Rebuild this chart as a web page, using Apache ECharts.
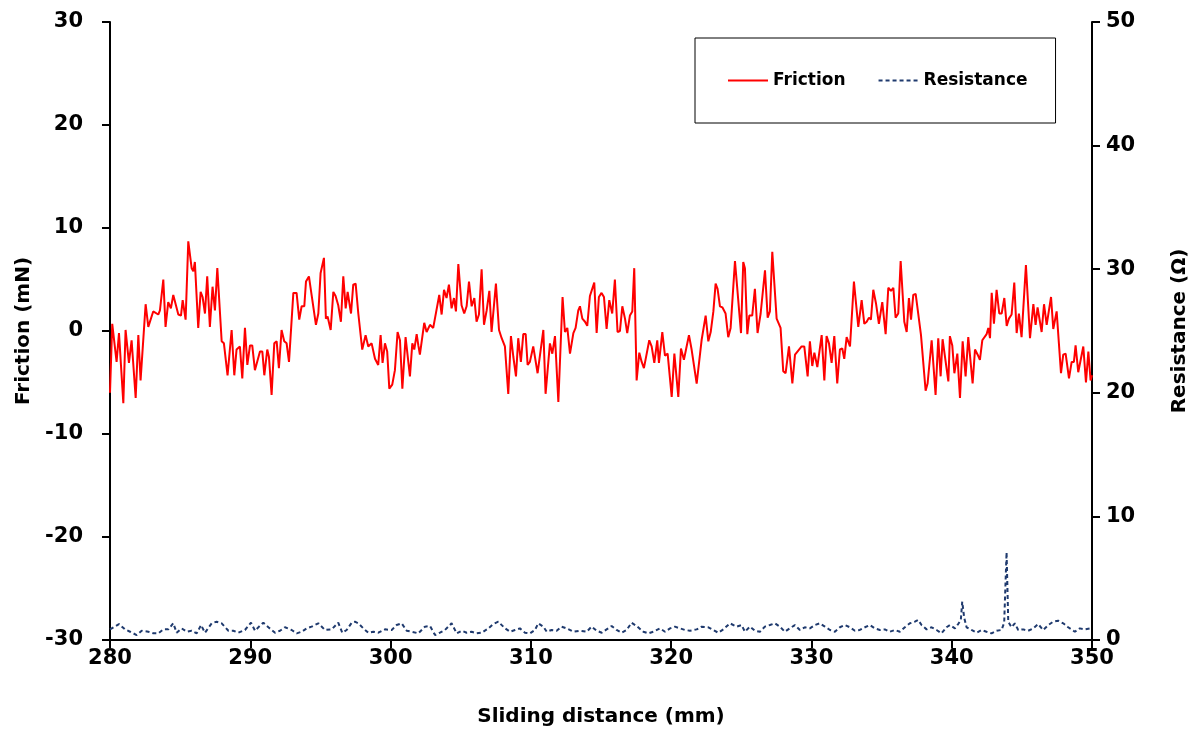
<!DOCTYPE html>
<html>
<head>
<meta charset="utf-8">
<title>Friction and resistance vs sliding distance</title>
<script src="https://cdn.jsdelivr.net/npm/echarts@6/dist/echarts.min.js"></script>
<style>
  html, body { margin: 0; padding: 0; background: #fff; }
  #chart { width: 1200px; height: 740px; }
</style>
</head>
<body>
<div id="chart"></div>
<script>
// axis ranges / ticks
const xTicks = { min: 280, max: 350, interval: 10 }
const frictionTicks = { min: -30, max: 30, interval: 10 }
const resistTicks = { min: 0, max: 50, interval: 10 }

// friction (mN) vs sliding distance (mm)
const frictionData = [
  [280.0, -6.0], [280.16, 0.7], [280.47, -3.0], [280.64, -0.2], [280.95, -7.0], [281.11, 0.1], [281.35, -3.1], [281.54, -0.9],
  [281.83, -6.5], [282.02, -0.4], [282.18, -4.8], [282.54, 2.6], [282.73, 0.4], [283.08, 1.9], [283.44, 1.6], [283.56, 2.0],
  [283.80, 5.0], [283.96, 0.4], [284.15, 2.8], [284.34, 2.2], [284.51, 3.5], [284.87, 1.6], [285.06, 1.5], [285.18, 3.0],
  [285.39, 1.1], [285.58, 8.7], [285.82, 6.1], [285.94, 5.8], [286.05, 6.7], [286.29, 0.3], [286.46, 3.8], [286.60, 3.3],
  [286.77, 1.7], [286.93, 5.3], [287.12, 0.4], [287.31, 4.3], [287.48, 2.0], [287.65, 6.1], [287.96, -1.0], [288.12, -1.2],
  [288.38, -4.3], [288.67, 0.1], [288.86, -4.3], [289.02, -1.8], [289.26, -1.5], [289.43, -4.6], [289.62, 0.3],
  [289.79, -3.3], [289.98, -1.4], [290.14, -1.4], [290.33, -3.8], [290.69, -2.0], [290.86, -2.0], [291.00, -4.3], [291.21, -1.8],
  [291.33, -2.5], [291.52, -6.2], [291.71, -1.2], [291.88, -1.0], [292.04, -3.6], [292.23, 0.1], [292.42, -1.0], [292.59, -1.2],
  [292.76, -3.0], [293.07, 3.7], [293.30, 3.7], [293.49, 1.1], [293.66, 2.4], [293.85, 2.4], [293.97, 4.8], [294.18, 5.3],
  [294.37, 3.5], [294.49, 3.4], [294.68, 0.6], [294.85, 1.7], [295.01, 5.6], [295.25, 7.1], [295.39, 1.2], [295.51, 1.4],
  [295.73, 0.1], [295.92, 3.8], [296.08, 3.4], [296.27, 2.5], [296.46, 0.9], [296.63, 5.3], [296.80, 2.2], [296.94, 3.8],
  [297.18, 1.7], [297.34, 4.5], [297.51, 4.6], [297.70, 1.7], [297.98, -1.8], [298.22, -0.4], [298.41, -1.5], [298.65, -1.2],
  [298.89, -2.7], [299.12, -3.3], [299.29, -0.4], [299.43, -3.1], [299.60, -1.2], [299.76, -2.0], [299.91, -5.6],
  [300.12, -5.2], [300.31, -3.8], [300.50, -0.1], [300.67, -0.9], [300.84, -5.6], [301.07, -0.6], [301.38, -4.4], [301.55, -1.2],
  [301.69, -1.8], [301.86, -0.3], [301.98, -1.4], [302.09, -2.3], [302.40, 0.8], [302.57, -0.1], [302.81, 0.6], [303.04, 0.3],
  [303.16, 0.3], [303.47, 3.5], [303.64, 1.6], [303.81, 4.0], [303.99, 3.2], [304.16, 4.5], [304.35, 2.2], [304.52, 3.2],
  [304.66, 1.9], [304.83, 6.5], [305.06, 2.5], [305.25, 1.7], [305.42, 2.4], [305.59, 4.8], [305.78, 2.4], [305.97, 3.2],
  [306.13, 0.9], [306.30, 1.6], [306.49, 6.0], [306.66, 0.6], [306.85, 2.0], [307.04, 3.9], [307.20, -0.1], [307.51, 4.6],
  [307.73, 0.1], [307.92, -0.7], [308.15, -1.5], [308.39, -6.1], [308.58, -0.5], [308.75, -2.5], [308.94, -4.4], [309.10, -0.7],
  [309.29, -3.0], [309.46, -0.3], [309.63, -0.3], [309.77, -3.3], [309.93, -3.0],
  [310.17, -1.5], [310.48, -4.1], [310.89, 0.1], [311.05, -6.1], [311.36, -1.2], [311.53, -2.2], [311.72, -0.5], [311.96, -6.9],
  [312.26, 3.3], [312.43, -0.1], [312.60, 0.3], [312.79, -2.2], [313.03, -0.2], [313.19, 0.3], [313.38, 2.0], [313.50, 2.4],
  [313.67, 1.2], [313.86, 0.9], [314.02, 0.5], [314.21, 3.4], [314.33, 3.3], [314.52, 4.7], [314.69, -0.2], [314.85, 3.3],
  [315.04, 3.7], [315.21, 3.3], [315.40, 0.2], [315.59, 3.0], [315.80, 1.7], [315.99, 5.0], [316.18, -0.1], [316.35, 0.0],
  [316.52, 2.4], [316.71, 1.2], [316.87, -0.2], [317.06, 1.5], [317.23, 1.9], [317.37, 6.1], [317.54, -4.8], [317.73, -2.1],
  [317.90, -3.0], [318.06, -3.6], [318.18, -3.5], [318.44, -0.9], [318.61, -1.5], [318.80, -3.1], [319.01, -0.9], [319.13, -3.1],
  [319.37, -0.1], [319.56, -2.4], [319.75, -2.2],
  [320.04, -6.4], [320.23, -2.2], [320.34, -2.2], [320.51, -6.4], [320.70, -1.7], [320.91, -2.8], [321.06, -1.8], [321.27, -0.4],
  [321.46, -1.8], [321.58, -1.8], [321.82, -5.1], [322.17, -0.9], [322.29, -1.0], [322.46, 1.5], [322.65, -1.0], [322.82, -0.1],
  [323.01, 1.9], [323.17, 4.6], [323.31, 4.1], [323.48, 2.4], [323.65, 2.3], [323.88, 1.7], [324.07, -0.6], [324.24, 0.3],
  [324.55, 6.8], [324.98, -0.2], [325.14, 6.7], [325.26, 6.1], [325.43, -0.3], [325.57, 1.5], [325.78, 1.5], [325.97, 4.1],
  [326.16, -0.2], [326.38, 1.7], [326.50, 1.7], [326.69, 5.9], [326.88, 1.3], [327.04, 1.9], [327.21, 7.7], [327.52, 1.2],
  [327.80, 0.3], [327.99, -3.9], [328.16, -4.1], [328.40, -1.5], [328.64, -5.1], [328.83, -2.3], [329.06, -1.9], [329.30, -1.5],
  [329.49, -1.5], [329.73, -4.4], [329.89, -1.0],
  [330.06, -3.4], [330.21, -2.1], [330.42, -3.5], [330.73, -0.4], [330.92, -4.8], [331.08, -0.5], [331.25, -1.2], [331.44, -3.1],
  [331.63, -0.5], [331.84, -5.1], [332.03, -1.8], [332.20, -1.7], [332.34, -2.7], [332.51, -0.6], [332.75, -1.5], [333.03, 4.8],
  [333.34, 0.4], [333.58, 3.0], [333.77, 0.7], [333.94, 0.9], [334.10, 1.3], [334.24, 1.1], [334.41, 4.0], [334.60, 2.7],
  [334.81, 0.7], [335.05, 2.8], [335.12, 2.9], [335.29, -0.3], [335.48, 4.2], [335.67, 3.9], [335.84, 4.2], [336.00, 1.3],
  [336.19, 1.7], [336.36, 6.8], [336.62, 0.9], [336.79, -0.1], [336.95, 3.2], [337.10, 1.1], [337.26, 3.5], [337.43, 3.6],
  [337.81, -0.4], [338.14, -5.8], [338.28, -5.1], [338.57, -0.9], [338.85, -6.2], [339.04, -0.7], [339.21, -4.4], [339.35, -0.8],
  [339.64, -3.7], [339.76, -4.9], [339.87, -0.5],
  [340.04, -1.4], [340.19, -4.1], [340.40, -2.2], [340.59, -6.5], [340.78, -1.0], [340.99, -4.4], [341.18, -0.6], [341.30, -0.6],
  [341.49, -5.1], [341.66, -1.8], [341.85, -2.3], [342.01, -2.8], [342.18, -0.9], [342.32, -0.8], [342.49, -0.3], [342.61, 0.3],
  [342.73, -0.7], [342.85, 3.7], [343.01, 0.7], [343.20, 4.0], [343.39, 1.7], [343.56, 1.7], [343.75, 3.2], [343.92, 0.5],
  [344.08, 1.2], [344.27, 1.6], [344.46, 4.7], [344.63, -0.2], [344.79, 1.7], [344.98, -0.6], [345.29, 6.4], [345.58, -0.7],
  [345.82, 2.6], [345.98, 0.6], [346.12, 2.3], [346.24, 2.2], [346.41, -0.1], [346.58, 2.6], [346.77, 0.6], [346.93, 2.0],
  [347.08, 3.3], [347.24, 0.2], [347.48, 1.9], [347.79, -4.1], [347.95, -2.3], [348.12, -2.2], [348.36, -4.6], [348.55, -3.0],
  [348.71, -3.0], [348.83, -1.4], [349.02, -4.0], [349.38, -1.5], [349.57, -5.0], [349.74, -2.0], [349.90, -4.8], [350.0, -4.3]
]

// resistance (ohm) vs sliding distance (mm)
const resistanceData = [
  [280.0, 0.86], [280.64, 1.29], [281.07, 0.86], [281.43, 0.67], [281.90, 0.40], [282.26, 0.75], [282.73, 0.67], [283.09, 0.54],
  [283.44, 0.54], [283.80, 0.86], [284.16, 0.86], [284.51, 1.35], [284.75, 0.59], [285.11, 0.94], [285.47, 0.67], [285.82, 0.75],
  [286.18, 0.54], [286.49, 1.21], [286.77, 0.59], [287.25, 1.35], [287.60, 1.48], [287.96, 1.35], [288.44, 0.75], [288.79, 0.75],
  [289.15, 0.59], [289.62, 0.81], [290.05, 1.40], [290.34, 0.75], [290.62, 1.08], [290.93, 1.40], [291.29, 1.03], [291.76, 0.59],
  [292.12, 0.75], [292.47, 1.03], [292.95, 0.81], [293.31, 0.54], [293.66, 0.67], [294.02, 0.94], [294.37, 1.08], [294.85, 1.35],
  [295.32, 0.81], [295.80, 0.86], [296.27, 1.40], [296.56, 0.59], [296.87, 0.81], [297.23, 1.40], [297.46, 1.48], [297.70, 1.35],
  [298.06, 0.94], [298.41, 0.59], [298.77, 0.67], [299.13, 0.59], [299.60, 0.86], [300.08, 0.81], [300.43, 1.21], [300.79, 1.35],
  [301.15, 0.75], [301.50, 0.67], [301.98, 0.54], [302.45, 1.08], [302.81, 1.13], [303.17, 0.40], [303.52, 0.59], [303.88, 0.81],
  [304.35, 1.35], [304.71, 0.54], [305.07, 0.75], [305.42, 0.59], [305.78, 0.67], [306.14, 0.54], [306.49, 0.59], [306.97, 0.94],
  [307.32, 1.29], [307.68, 1.48], [308.16, 0.94], [308.51, 0.67], [308.87, 0.81], [309.22, 0.94], [309.58, 0.59], [309.94, 0.54],
  [310.29, 0.81], [310.53, 1.35], [310.89, 1.08], [311.13, 0.67], [311.48, 0.81], [311.84, 0.75], [312.19, 1.08], [312.55, 0.94],
  [313.03, 0.67], [313.50, 0.75], [313.98, 0.67], [314.33, 1.08], [314.69, 0.75], [315.05, 0.59], [315.40, 0.86], [315.76, 1.13],
  [316.11, 0.81], [316.47, 0.59], [316.83, 0.81], [317.18, 1.40], [317.54, 1.13], [318.02, 0.67], [318.37, 0.54], [318.73, 0.67],
  [319.20, 0.94], [319.56, 0.67], [319.92, 0.94], [320.27, 1.08], [320.63, 0.94], [320.99, 0.81], [321.34, 0.75], [321.82, 0.86],
  [322.17, 1.08], [322.65, 1.03], [323.00, 0.81], [323.36, 0.59], [323.72, 0.86], [324.19, 1.35], [324.67, 1.08], [325.02, 1.21],
  [325.26, 0.67], [325.62, 1.08], [325.97, 0.75], [326.33, 0.67], [326.68, 1.08], [327.04, 1.21], [327.40, 1.35], [327.75, 1.08],
  [328.11, 0.67], [328.46, 0.94], [328.82, 1.21], [329.18, 0.81], [329.53, 1.03], [329.89, 0.94], [330.25, 1.21], [330.60, 1.35],
  [330.96, 1.08], [331.32, 0.81], [331.67, 0.67], [332.03, 1.03], [332.38, 1.21], [332.74, 1.03], [333.10, 0.75], [333.45, 0.81],
  [333.81, 1.03], [334.17, 1.21], [334.52, 0.94], [334.88, 0.81], [335.24, 0.86], [335.59, 0.67], [335.95, 0.81], [336.30, 0.67],
  [336.66, 1.03], [337.02, 1.35], [337.37, 1.48], [337.61, 1.62], [337.85, 1.21], [338.21, 0.86], [338.56, 1.03], [338.92, 0.81],
  [339.27, 0.54], [339.63, 1.03], [339.87, 1.21], [340.23, 0.94], [340.46, 1.29], [340.65, 1.62], [340.75, 3.1], [340.89, 1.8],
  [341.06, 1.03], [341.41, 0.81], [341.77, 0.59], [342.13, 0.81], [342.48, 0.67], [342.84, 0.54], [343.20, 0.75], [343.55, 0.81],
  [343.74, 1.40], [343.91, 7.1], [344.03, 1.48], [344.26, 1.03], [344.50, 1.35], [344.74, 0.81], [345.10, 0.86], [345.45, 0.75],
  [345.81, 0.94], [346.16, 1.29], [346.52, 0.81], [346.88, 1.21], [347.23, 1.48], [347.59, 1.56], [347.95, 1.35], [348.30, 1.03],
  [348.78, 0.67], [349.13, 0.94], [349.49, 0.86], [349.85, 0.94], [350.0, 0.81]
]

const FONT = 'DejaVu Sans'

const axisCommon = {
  axisLine: { show: true, onZero: false, lineStyle: { color: '#000', width: 2 } },
  axisTick: { show: true, inside: false, length: 8, lineStyle: { color: '#000', width: 2 } },
  splitLine: { show: false },
  axisLabel: { color: '#000', fontFamily: FONT, fontWeight: 'bold', fontSize: 21 },
  nameTextStyle: { color: '#000', fontFamily: FONT, fontWeight: 'bold', fontSize: 20 }
}

const myChart = echarts.init(document.getElementById('chart'), null, { renderer: 'canvas' })

const option = {
  backgroundColor: '#fff',
  animation: false,
  grid: { left: 110, right: 108, top: 22, bottom: 100 },
  legend: {
    left: 695,
    top: 38,
    padding: [34, 28, 34, 32],
    borderColor: '#000',
    borderWidth: 1,
    itemWidth: 40,
    itemHeight: 14,
    itemGap: 32,
    // hide the marker dot, keep only the line sample
    itemStyle: { opacity: 0 },
    textStyle: { color: '#000', fontFamily: FONT, fontWeight: 'bold', fontSize: 17 },
    data: ['Friction', 'Resistance']
  },
  xAxis: {
    type: 'value',
    min: xTicks.min, max: xTicks.max, interval: xTicks.interval,
    name: 'Sliding distance (mm)',
    nameLocation: 'middle',
    nameGap: 67,
    ...axisCommon,
    axisLabel: { ...axisCommon.axisLabel, margin: 8 }
  },
  yAxis: [
    {
      type: 'value',
      position: 'left',
      min: frictionTicks.min, max: frictionTicks.max, interval: frictionTicks.interval,
      name: 'Friction (mN)',
      nameLocation: 'middle',
      nameGap: 76,
      ...axisCommon,
      axisLabel: { ...axisCommon.axisLabel, margin: 27 }
    },
    {
      type: 'value',
      position: 'right',
      min: resistTicks.min, max: resistTicks.max, interval: resistTicks.interval,
      name: 'Resistance (Ω)',
      nameLocation: 'middle',
      nameGap: 78,
      ...axisCommon,
      axisLabel: { ...axisCommon.axisLabel, margin: 14 }
    }
  ],
  series: [
    {
      name: 'Friction',
      type: 'line',
      yAxisIndex: 0,
      symbol: 'none',
      data: frictionData,
      lineStyle: { color: '#ff0000', width: 2 },
      itemStyle: { color: '#ff0000' }
    },
    {
      name: 'Resistance',
      type: 'line',
      yAxisIndex: 1,
      symbol: 'none',
      data: resistanceData,
      lineStyle: { color: '#1f3a6e', width: 2, type: [4, 3] },
      itemStyle: { color: '#1f3a6e' }
    }
  ]
}

myChart.setOption(option)
</script>
</body>
</html>
